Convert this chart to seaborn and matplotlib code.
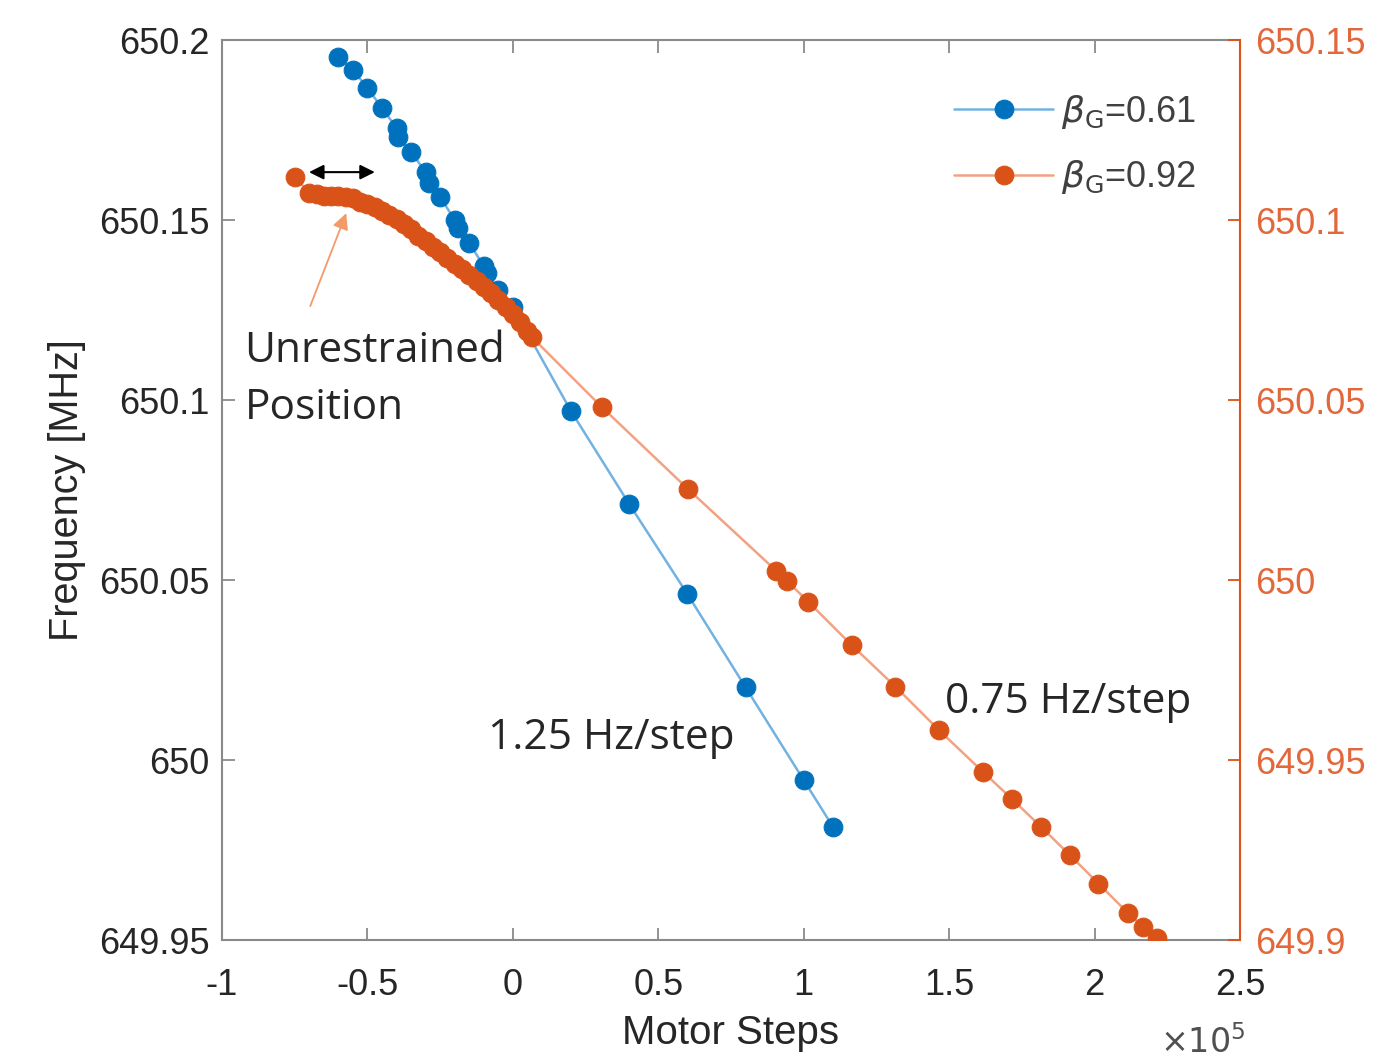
import numpy as np
import pandas as pd
import matplotlib
matplotlib.use("Agg")
import matplotlib.pyplot as plt
import seaborn as sns

# Frequency vs. tuner motor position for two cavity geometries
steps_061 = [-60000, -55000, -50000, -45000, -40000, -39500, -35000, -30000, -29000,
             -25000, -20000, -19000, -15000, -10000, -9000, -5000, 0,
             20000, 40000, 60000, 80000, 100000, 110000]
freq_061 = [650.1953, 650.1917, 650.1867, 650.1811, 650.1756, 650.1731, 650.1689,
            650.1633, 650.1603, 650.1564, 650.1500, 650.1478, 650.1436, 650.1372,
            650.1353, 650.1306, 650.1258, 650.0969, 650.0711, 650.0461, 650.0202,
            649.9944, 649.9815]

steps_092 = [-75000, -70000, -67500, -65000, -62500, -60000, -57500, -55000, -52500,
             -50000, -47500, -45000, -42500, -40000, -37500, -35000, -32500, -30000,
             -27500, -25000, -22500, -20000, -17500, -15000, -12500, -10000, -7500,
             -5000, -2500, 0, 2500, 5000, 6500,
             30500, 60300, 90500, 94300, 101500, 116500, 131500, 146500,
             161500, 171700, 181500, 191500, 201300, 211600, 216700, 221500]
freq_092 = [650.1120, 650.1075, 650.1071, 650.1067, 650.1067, 650.1068, 650.1064,
            650.1060, 650.1051, 650.1044, 650.1035, 650.1025, 650.1014, 650.1003,
            650.0989, 650.0974, 650.0956, 650.0942, 650.0925, 650.0911, 650.0894,
            650.0879, 650.0864, 650.0847, 650.0831, 650.0814, 650.0797, 650.0778,
            650.0758, 650.0739, 650.0717, 650.0692, 650.0675,
            650.0481, 650.0252, 650.0026, 649.9997, 649.9940, 649.9819, 649.9704,
            649.9583, 649.9468, 649.9391, 649.9315, 649.9236, 649.9157, 649.9074,
            649.9037, 649.9005]

series_labels = [r"$\beta_{\mathrm{G}}$=0.61", r"$\beta_{\mathrm{G}}$=0.92"]

x_ticks = [-1, -0.5, 0, 0.5, 1, 1.5, 2, 2.5]
x_tick_labels = ["-1", "-0.5", "0", "0.5", "1", "1.5", "2", "2.5"]
left_ticks = [649.95, 650.0, 650.05, 650.1, 650.15, 650.2]
left_tick_labels = ["649.95", "650", "650.05", "650.1", "650.15", "650.2"]
right_ticks = [649.9, 649.95, 650.0, 650.05, 650.1, 650.15]
right_tick_labels = ["649.9", "649.95", "650", "650.05", "650.1", "650.15"]

BLUE = "#0072BD"
BLUE_LINE = "#72b2e2"
ORANGE = "#D95319"
ORANGE_LINE = "#f2a282"
ORANGE_TEXT = "#E2683C"
AXIS_GREY = "#8a8a8a"
TEXT_DARK = "#262626"

sns.set_style("white")
plt.rcParams["font.family"] = ["Liberation Sans", "DejaVu Sans"]
plt.rcParams["mathtext.fontset"] = "dejavusans"

df61 = pd.DataFrame({"steps": np.array(steps_061) / 1e5, "freq": freq_061})
df92 = pd.DataFrame({"steps": np.array(steps_092) / 1e5, "freq": freq_092})

fig = plt.figure(figsize=(13.78, 10.64), dpi=100)
ax = fig.add_axes([0.1611, 0.1165, 0.7388, 0.8459])
ax2 = ax.twinx()

sns.lineplot(data=df61, x="steps", y="freq", ax=ax, estimator=None, sort=False,
             color=BLUE_LINE, lw=1.8, marker="o", markersize=13.5,
             markerfacecolor=BLUE, markeredgecolor=BLUE, label=series_labels[0])
sns.lineplot(data=df92, x="steps", y="freq", ax=ax2, estimator=None, sort=False,
             color=ORANGE_LINE, lw=1.8, marker="o", markersize=13.5,
             markerfacecolor=ORANGE, markeredgecolor=ORANGE, label=series_labels[1])

for a in (ax, ax2):
    lg = a.get_legend()
    if lg is not None:
        lg.remove()

ax.set_xlim(-1, 2.5)
ax.set_ylim(649.95, 650.2)
ax2.set_ylim(649.9, 650.15)

ax.set_xticks(x_ticks)
ax.set_xticklabels(x_tick_labels)
ax.set_yticks(left_ticks)
ax.set_yticklabels(left_tick_labels)
ax2.set_yticks(right_ticks)
ax2.set_yticklabels(right_tick_labels)

ax.tick_params(axis="x", direction="in", length=9, width=1.3, color=AXIS_GREY,
               labelcolor=TEXT_DARK, labelsize=26, pad=20, top=True, bottom=True)
ax.tick_params(axis="y", direction="in", length=9, width=1.3, color=AXIS_GREY,
               labelcolor=TEXT_DARK, labelsize=26, pad=9, left=True, right=False)
ax2.tick_params(axis="y", direction="in", length=9, width=1.3, color=ORANGE,
                labelcolor=ORANGE_TEXT, labelsize=26, pad=11)

for name in ("left", "top", "bottom"):
    ax.spines[name].set_color(AXIS_GREY)
    ax.spines[name].set_linewidth(1.5)
    ax2.spines[name].set_visible(False)
ax.spines["right"].set_visible(False)
ax2.spines["right"].set_color(ORANGE)
ax2.spines["right"].set_linewidth(1.5)

ax.set_xlabel("Motor Steps", fontsize=29, color=TEXT_DARK, labelpad=8)
ax.set_ylabel("Frequency [MHz]", fontsize=28.5, color=TEXT_DARK, labelpad=9)
ax2.set_ylabel("")

# legend
h1 = ax.get_lines()[0]
h2 = ax2.get_lines()[0]
ax2.legend([h1, h2], series_labels, loc="upper left", bbox_to_anchor=(0.719, 0.941),
           frameon=False, fontsize=26, handlelength=2.75, handletextpad=0.2,
           labelspacing=0.75, borderpad=0, borderaxespad=0, labelcolor="#404040")

# annotations
note_font = ["Open Sans", "DejaVu Sans"]
note_size = 30.5
ax.text(0.022, 0.655, "Unrestrained", transform=ax.transAxes, fontsize=note_size,
        family=note_font, color=TEXT_DARK, va="center", ha="left")
ax.text(0.022, 0.591, "Position", transform=ax.transAxes, fontsize=note_size,
        family=note_font, color=TEXT_DARK, va="center", ha="left")
ax.text(0.261, 0.225, "1.25 Hz/step", transform=ax.transAxes, fontsize=note_size,
        family=note_font, color=TEXT_DARK, va="center", ha="left")
ax.text(0.710, 0.264, "0.75 Hz/step", transform=ax.transAxes, fontsize=note_size,
        family=note_font, color=TEXT_DARK, va="center", ha="left")

ax.annotate("", xy=(-0.701, 650.1633), xytext=(-0.4745, 650.1633),
            arrowprops=dict(arrowstyle="<|-|>", color="black", lw=1.5,
                            mutation_scale=22, shrinkA=0, shrinkB=0))
ax.annotate("", xy=(-0.5728, 650.1519), xytext=(-0.6966, 650.1261),
            arrowprops=dict(arrowstyle="-|>", color="#f39a6b", lw=1.3,
                            mutation_scale=24, shrinkA=0, shrinkB=0))

fig.text(0.842, 0.010, r"$\times10^{5}$", fontsize=24, color="#505050")

fig.savefig("out.png", dpi=100, facecolor="white")
